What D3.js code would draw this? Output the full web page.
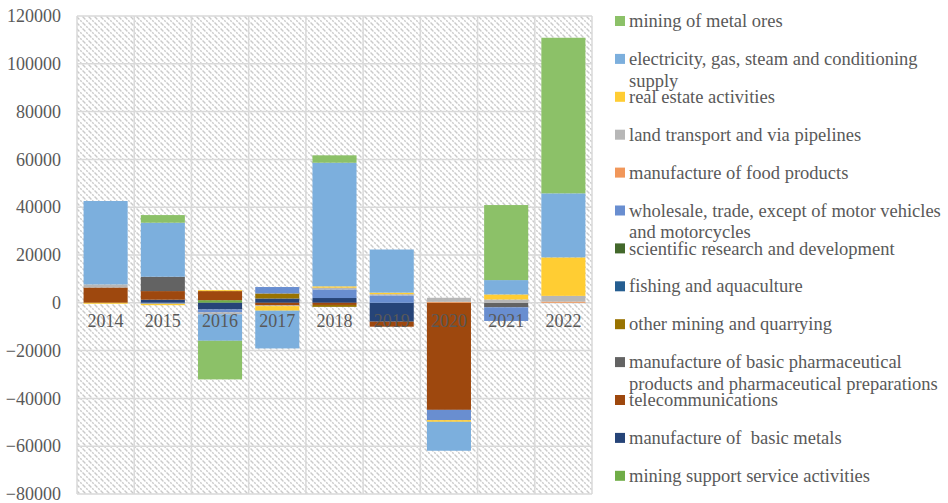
<!DOCTYPE html>
<html>
<head>
<meta charset="utf-8">
<script src="https://cdn.jsdelivr.net/npm/d3@7"></script>
<style>
  body { margin: 0; background: #fff; }
  svg text { font-family: "Liberation Serif", "Times New Roman", serif; fill: #595959; white-space: pre; }
</style>
</head>
<body>
<div id="chart"></div>
<script>
const years = ['2014', '2015', '2016', '2017', '2018', '2019', '2020', '2021', '2022'];

// series in stacking order (first = nearest the zero line)
const miningSupport = [0, 0, 1100, 0, 0, 0, 0, 0, 0];
const basicMetals   = [0, 1300, -2800, 1800, 2000, -7900, 0, 0, 0];
const telecom       = [6400, 3600, 3800, -1100, -900, -2100, -44800, 0, 0];
const pharma        = [0, 6000, 0, 0, 0, 0, 0, -1900, 0];
const otherMining   = [0, 0, 0, 2100, -800, 0, 0, 0, 0];
const fishing       = [0, 0, 0, 0, 0, 0, 0, 0, 0];
const scientific    = [0, 0, 0, 0, 0, 0, 0, 0, 0];
const wholesale     = [0, -400, -1200, 2700, 3600, 3100, -4300, -5700, 0];
const foodProducts  = [0, 0, 0, 0, 0, 0, 400, 0, 500];
const landTransport = [1300, 0, -800, -300, 700, 500, 1700, 1400, 2400];
const realEstate    = [-400, -600, 400, -1900, 600, 650, -700, 2100, 16100];
const electricity   = [34900, 22600, -11100, -15800, 51700, 18050, -12100, 6000, 26800];
const metalOres     = [0, 3200, -16150, 0, 3100, 0, 0, 31400, 65100];

const seriesNames = [
  'mining support service activities',
  'manufacture of  basic metals',
  'telecommunications',
  'manufacture of basic pharmaceutical products and pharmaceutical preparations',
  'other mining and quarrying',
  'fishing and aquaculture',
  'scientific research and development',
  'wholesale, trade, except of motor vehicles and motorcycles',
  'manufacture of food products',
  'land transport and via pipelines',
  'real estate activities',
  'electricity, gas, steam and conditioning supply',
  'mining of metal ores'
];
const seriesValues = [miningSupport, basicMetals, telecom, pharma, otherMining, fishing,
  scientific, wholesale, foodProducts, landTransport, realEstate, electricity, metalOres];
const seriesColors = ['#70ad47', '#264478', '#9e480e', '#636363', '#997300', '#255e91',
  '#43682b', '#698ed0', '#f1975a', '#b7b7b7', '#ffcd33', '#7cafdd', '#8cc168'];

const yTicks = [-80000, -60000, -40000, -20000, 0, 20000, 40000, 60000, 80000, 100000, 120000];

const width  = 948;
const height = 503;
const margin = {top: 16, right: 356, bottom: 9, left: 77};

// table for d3.stack
const table = years.map((y, i) => {
  let row = {year: y};
  seriesNames.forEach((s, k) => row[s] = seriesValues[k][i]);
  return row;
});

const stacked = d3.stack()
  .keys(seriesNames)
  .offset(d3.stackOffsetDiverging)(table);

const svg = d3.select('#chart')
  .append('svg')
  .attr('width', width)
  .attr('height', height);

const defs = svg.append('defs');
const pattern = defs.append('pattern')
  .attr('id', 'hatch')
  .attr('patternUnits', 'userSpaceOnUse')
  .attr('width', 6)
  .attr('height', 6);
pattern.append('rect').attr('width', 6).attr('height', 6).attr('fill', '#ffffff');
pattern.append('path')
  .attr('d', 'M0,0 L6,6 M-3,3 L3,9 M3,-3 L9,3')
  .attr('stroke', '#cacaca')
  .attr('stroke-width', 1.4)
  .attr('stroke-dasharray', '2,1.2');

const x = d3.scaleBand()
  .domain(years)
  .range([margin.left, width - margin.right])
  .paddingInner(0.23)
  .paddingOuter(0.115);

const y = d3.scaleLinear()
  .domain([-80000, 120000])
  .range([height - margin.bottom, margin.top]);

const plotLeft = margin.left, plotRight = width - margin.right;

// hatched plot area
svg.append('rect')
  .attr('x', plotLeft)
  .attr('y', y(120000))
  .attr('width', plotRight - plotLeft)
  .attr('height', y(-80000) - y(120000))
  .attr('fill', 'url(#hatch)');

// horizontal gridlines
svg.append('g')
  .selectAll('line')
  .data(yTicks)
  .join('line')
    .attr('x1', plotLeft)
    .attr('x2', plotRight)
    .attr('y1', d => y(d))
    .attr('y2', d => y(d))
    .attr('stroke', '#d9d9d9')
    .attr('stroke-width', 1.5);

// vertical gridlines at category boundaries
const step = x.step();
const boundaries = years.map(yr => x(yr) - step * x.paddingInner() / 2)
  .concat([x(years[years.length - 1]) + x.bandwidth() + step * x.paddingInner() / 2]);
svg.append('g')
  .selectAll('line')
  .data(boundaries)
  .join('line')
    .attr('x1', d => d)
    .attr('x2', d => d)
    .attr('y1', y(120000))
    .attr('y2', y(-80000))
    .attr('stroke', '#d9d9d9')
    .attr('stroke-width', 1.5);

// bars
svg.append('g')
  .selectAll('g')
  .data(stacked)
  .join('g')
    .attr('fill', (d, i) => seriesColors[i])
  .selectAll('rect')
  .data(d => d)
  .join('rect')
    .attr('x', d => x(d.data.year))
    .attr('width', x.bandwidth())
    .attr('y', d => y(Math.max(d[0], d[1])))
    .attr('height', d => Math.abs(y(d[0]) - y(d[1])));

// y-axis labels
svg.append('g')
  .attr('transform', `translate(${plotLeft}, 0)`)
  .call(d3.axisLeft(y).tickValues(yTicks).tickSize(0).tickPadding(16).tickFormat(d3.format('d')))
  .call(g => g.select('.domain').remove())
  .selectAll('text')
    .style('font-size', '18px')
    .style('font-family', '"Liberation Serif", "Times New Roman", serif')
    .attr('fill', '#595959');

// x-axis labels (drawn over the bars)
svg.append('g')
  .attr('transform', `translate(0, ${y(0)})`)
  .call(d3.axisBottom(x).tickSize(0).tickPadding(11))
  .call(g => g.select('.domain').remove())
  .selectAll('text')
    .style('font-size', '18px')
    .style('font-family', '"Liberation Serif", "Times New Roman", serif')
    .attr('fill', '#595959');

// legend, reversed order
const legendX = 615, legendY0 = 21, legendStep = 37.9, legendWrap = 320;
const legend = svg.append('g');
const legendOrder = d3.range(seriesNames.length).reverse();

legendOrder.forEach((k, i) => {
  const cy = legendY0 + i * legendStep;
  legend.append('rect')
    .attr('x', legendX)
    .attr('y', cy - 5)
    .attr('width', 10)
    .attr('height', 10)
    .attr('fill', seriesColors[k]);

  const text = legend.append('text')
    .attr('x', legendX + 14)
    .attr('y', cy)
    .style('font-size', '18.5px');

  // simple word wrapping
  const words = seriesNames[k].split(' ');
  let line = [];
  let lineNo = 0;
  let tspan = text.append('tspan').attr('x', legendX + 14).attr('y', cy).attr('dy', '0.33em');
  words.forEach(w => {
    line.push(w);
    tspan.text(line.join(' '));
    if (tspan.node().getComputedTextLength() > legendWrap && line.length > 1) {
      line.pop();
      tspan.text(line.join(' '));
      line = [w];
      lineNo++;
      tspan = text.append('tspan')
        .attr('x', legendX + 14)
        .attr('y', cy + lineNo * 21.5)
        .attr('dy', '0.33em')
        .text(w);
    }
  });
});
</script>
</body>
</html>
